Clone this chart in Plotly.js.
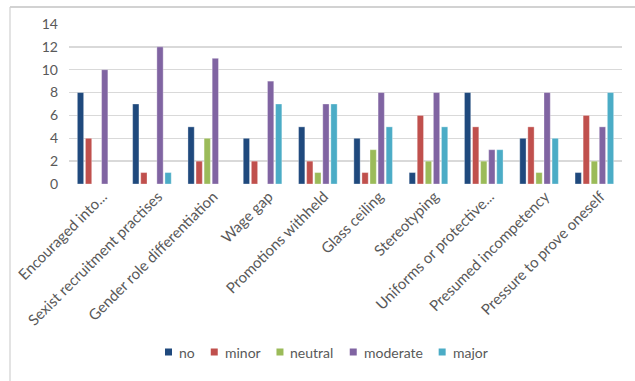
<!DOCTYPE html>
<html>
<head>
<meta charset="utf-8">
<script src="https://cdn.plot.ly/plotly-3.0.1.min.js"></script>
<style>
  html, body { margin: 0; padding: 0; background: #ffffff; }
  #chart { width: 635px; height: 381px; }
</style>
</head>
<body>
<div id="chart"></div>
<script>
// Forms of workplace gender discrimination, count of responses by severity
const categories = [
  'Encouraged into...',
  'Sexist recruitment practises',
  'Gender role differentiation',
  'Wage gap',
  'Promotions withheld',
  'Glass ceiling',
  'Stereotyping',
  'Uniforms or protective...',
  'Presumed incompetency',
  'Pressure to prove oneself'
];

const seriesNames = ['no', 'minor', 'neutral', 'moderate', 'major'];

// null = no responses in that group (no bar drawn)
const noValues       = [8, 7, 5, 4, 5, 4, 1, 8, 4, 1];
const minorValues    = [4, 1, 2, 2, 2, 1, 6, 5, 5, 6];
const neutralValues  = [null, null, 4, null, 1, 3, 2, 2, 1, 2];
const moderateValues = [10, 12, 11, 9, 7, 8, 8, 3, 8, 5];
const majorValues    = [null, 1, null, 7, 7, 5, 5, 3, 4, 8];

const yTicks = [0, 2, 4, 6, 8, 10, 12, 14];

const seriesValues = [noValues, minorValues, neutralValues, moderateValues, majorValues];
const seriesColors = ['#1F497D', '#C0504D', '#9BBB59', '#8064A2', '#4BACC6'];

const FONT = 'Lato, "Open Sans", sans-serif';
const TEXT_COLOR = '#595959';
const FONT_SIZE = 14;

const traces = seriesNames.map((name, i) => ({
  type: 'bar',
  name: name,
  x: categories,
  y: seriesValues[i],
  marker: {
    color: seriesColors[i],
    line: { color: 'rgba(255,255,255,0.55)', width: 0.6 }
  },
  showlegend: false,
  hoverinfo: 'x+y+name'
}));

// pixel helpers: plot box margins and conversion to paper units
const W = 635, H = 381;
const M = { l: 69, r: 13, t: 24, b: 197 };
const pw = W - M.l - M.r, ph = H - M.t - M.b;
const px = v => (v - M.l) / pw;
const py = v => (H - M.b - v) / ph;

// compact legend row: small swatch + label, laid out with measured text widths
const ctx = document.createElement('canvas').getContext('2d');
ctx.font = FONT_SIZE + 'px ' + FONT;
const legendShapes = [];
const legendLabels = [];
const LEG_Y = 352, SW = 7, SW_GAP = 5, ITEM_GAP = 18;
let cursor = 165;
seriesNames.forEach((name, i) => {
  legendShapes.push({
    type: 'rect', xref: 'paper', yref: 'paper',
    x0: px(cursor), x1: px(cursor + SW),
    y0: py(LEG_Y + SW / 2), y1: py(LEG_Y - SW / 2),
    fillcolor: seriesColors[i], line: { width: 0 }
  });
  legendLabels.push({
    xref: 'paper', yref: 'paper',
    x: px(cursor + SW + SW_GAP), y: py(LEG_Y),
    xanchor: 'left', yanchor: 'middle',
    text: name, showarrow: false,
    font: { family: FONT, size: FONT_SIZE, color: TEXT_COLOR }
  });
  cursor += SW + SW_GAP + ctx.measureText(name).width + ITEM_GAP;
});

const layout = {
  width: W,
  height: H,
  margin: M,
  paper_bgcolor: '#ffffff',
  plot_bgcolor: '#ffffff',
  font: { family: FONT, size: FONT_SIZE, color: TEXT_COLOR },
  barmode: 'group',
  bargap: 0.27,
  bargroupgap: 0.22,
  showlegend: false,
  xaxis: {
    type: 'category',
    tickangle: -45,
    showgrid: false,
    zeroline: false,
    showline: false,
    ticks: '',
    ticklabelshift: 6,
    tickfont: { size: 15, color: TEXT_COLOR },
    fixedrange: true
  },
  yaxis: {
    range: [0, 14],
    tickvals: yTicks,
    ticktext: yTicks.map(String),
    showgrid: true,
    gridcolor: '#D9D9D9',
    gridwidth: 1.5,
    zeroline: false,
    showline: false,
    ticks: '',
    ticklabelstandoff: 10,
    tickfont: { size: FONT_SIZE, color: TEXT_COLOR },
    fixedrange: true
  },
  annotations: legendLabels,
  shapes: [
    // outer frame: top and left edges
    { type: 'line', xref: 'paper', yref: 'paper', x0: px(10), x1: px(W), y0: py(7), y1: py(7),
      line: { color: '#A6A6A6', width: 1.2 } },
    { type: 'line', xref: 'paper', yref: 'paper', x0: px(10), x1: px(10), y0: py(7), y1: py(H),
      line: { color: '#D0D0D0', width: 1.2 } }
  ].concat(legendShapes)
};

Plotly.newPlot('chart', traces, layout, { displayModeBar: false, staticPlot: true });
</script>
</body>
</html>
